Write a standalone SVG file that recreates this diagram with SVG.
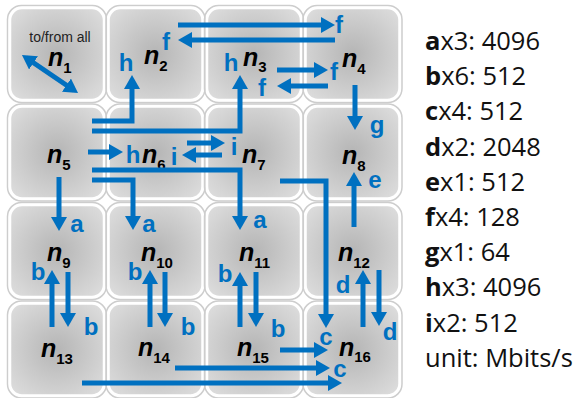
<svg xmlns="http://www.w3.org/2000/svg" width="584" height="398" viewBox="0 0 584 398">
  <style>
    .tile { fill: url(#tileFill); stroke: #ffffff; stroke-width: 2.5; }
    .rim { fill: none; stroke: #cdcdcd; stroke-width: 1.5; }
    .flow { fill: none; stroke: #0070c0; stroke-width: 5; stroke-linejoin: miter; marker-end: url(#head); }
    .lbl { fill: #0070c0; font-family: "Liberation Sans", Arial, sans-serif; font-weight: bold; font-size: 24px; text-anchor: middle; }
    .nd { fill: #000; font-family: "Liberation Sans", Arial, sans-serif; font-weight: bold; font-style: italic; font-size: 25px; }
    .sub { font-style: normal; font-size: 15px; }
    .note { fill: #222; font-family: "Liberation Sans", Arial, sans-serif; font-size: 14px; text-anchor: middle; }
    .key { fill: #111; font-family: "Open Sans", "Liberation Sans", sans-serif; font-size: 25.5px; }
    .key tspan.b { font-weight: bold; }
  </style>
  <defs>
    <radialGradient id="tileFill" cx="50%" cy="50%" r="65%">
      <stop offset="0" stop-color="#b5b5b5"/>
      <stop offset="1" stop-color="#dcdcdc"/>
    </radialGradient>
    <marker id="head" viewBox="0 0 14 16" refX="9" refY="8" markerWidth="14" markerHeight="16" markerUnits="userSpaceOnUse" orient="auto-start-reverse">
      <path d="M0,0 L14,8 L0,16 z" fill="#0070c0"/>
    </marker>
  </defs>

  <rect width="584" height="398" fill="#ffffff"/>

  <!-- tiles -->
  <g id="n1"><rect class="rim" x="7.5" y="5.5" width="99" height="97" rx="14"/><rect class="tile" x="10" y="8" width="94" height="92" rx="12"/>
    <text class="note" x="60" y="42">to/from all</text>
    <text class="nd" x="48" y="66">n<tspan class="sub" dy="7">1</tspan></text></g>
  <g id="n2"><rect class="rim" x="106" y="5.5" width="99" height="97" rx="14"/><rect class="tile" x="108.5" y="8" width="94" height="92" rx="12"/>
    <text class="nd" x="144" y="64">n<tspan class="sub" dy="7">2</tspan></text></g>
  <g id="n3"><rect class="rim" x="204.5" y="5.5" width="99" height="97" rx="14"/><rect class="tile" x="207" y="8" width="94" height="92" rx="12"/>
    <text class="nd" x="243" y="66">n<tspan class="sub" dy="6">3</tspan></text></g>
  <g id="n4"><rect class="rim" x="303" y="5.5" width="99" height="97" rx="14"/><rect class="tile" x="305.5" y="8" width="94" height="92" rx="12"/>
    <text class="nd" x="342" y="67">n<tspan class="sub" dy="7">4</tspan></text></g>

  <g id="n5"><rect class="rim" x="7.5" y="104" width="99" height="97" rx="14"/><rect class="tile" x="10" y="106.5" width="94" height="92" rx="12"/>
    <text class="nd" x="47" y="163">n<tspan class="sub" dy="7">5</tspan></text></g>
  <g id="n6"><rect class="rim" x="106" y="104" width="99" height="97" rx="14"/><rect class="tile" x="108.5" y="106.5" width="94" height="92" rx="12"/>
    <text class="nd" x="142" y="163">n<tspan class="sub" dy="7">6</tspan></text></g>
  <g id="n7"><rect class="rim" x="204.5" y="104" width="99" height="97" rx="14"/><rect class="tile" x="207" y="106.5" width="94" height="92" rx="12"/>
    <text class="nd" x="242" y="163">n<tspan class="sub" dy="7">7</tspan></text></g>
  <g id="n8"><rect class="rim" x="303" y="104" width="99" height="97" rx="14"/><rect class="tile" x="305.5" y="106.5" width="94" height="92" rx="12"/>
    <text class="nd" x="342" y="164">n<tspan class="sub" dy="7">8</tspan></text></g>

  <g id="n9"><rect class="rim" x="7.5" y="202.5" width="99" height="97" rx="14"/><rect class="tile" x="10" y="205" width="94" height="92" rx="12"/>
    <text class="nd" x="47" y="261">n<tspan class="sub" dy="7">9</tspan></text></g>
  <g id="n10"><rect class="rim" x="106" y="202.5" width="99" height="97" rx="14"/><rect class="tile" x="108.5" y="205" width="94" height="92" rx="12"/>
    <text class="nd" x="141" y="261">n<tspan class="sub" dy="7">10</tspan></text></g>
  <g id="n11"><rect class="rim" x="204.5" y="202.5" width="99" height="97" rx="14"/><rect class="tile" x="207" y="205" width="94" height="92" rx="12"/>
    <text class="nd" x="239" y="261">n<tspan class="sub" dy="7">11</tspan></text></g>
  <g id="n12"><rect class="rim" x="303" y="202.5" width="99" height="97" rx="14"/><rect class="tile" x="305.5" y="205" width="94" height="92" rx="12"/>
    <text class="nd" x="338" y="261">n<tspan class="sub" dy="7">12</tspan></text></g>

  <g id="n13"><rect class="rim" x="7.5" y="301" width="99" height="97" rx="14"/><rect class="tile" x="10" y="303.5" width="94" height="92" rx="12"/>
    <text class="nd" x="41" y="357">n<tspan class="sub" dy="7">13</tspan></text></g>
  <g id="n14"><rect class="rim" x="106" y="301" width="99" height="97" rx="14"/><rect class="tile" x="108.5" y="303.5" width="94" height="92" rx="12"/>
    <text class="nd" x="138" y="356">n<tspan class="sub" dy="7">14</tspan></text></g>
  <g id="n15"><rect class="rim" x="204.5" y="301" width="99" height="97" rx="14"/><rect class="tile" x="207" y="303.5" width="94" height="92" rx="12"/>
    <text class="nd" x="237" y="356">n<tspan class="sub" dy="7">15</tspan></text></g>
  <g id="n16"><rect class="rim" x="303" y="301" width="99" height="97" rx="14"/><rect class="tile" x="305.5" y="303.5" width="94" height="92" rx="12"/>
    <text class="nd" x="339" y="356">n<tspan class="sub" dy="6">16</tspan></text></g>

  <!-- traffic flows -->
  <g id="connectors">
    <path class="flow" d="M26.1,57.8 L73.9,90.2" marker-start="url(#head)"/>
    <path class="flow" d="M178,25 H330"/>
    <path class="flow" d="M335,40 H183"/>
    <path class="flow" d="M92,121 H132 V80"/>
    <path class="flow" d="M92,131 H240 V80"/>
    <path class="flow" d="M277,70 H323"/>
    <path class="flow" d="M328,86 H282"/>
    <path class="flow" d="M355,85 V125"/>
    <path class="flow" d="M88,152 H118"/>
    <path class="flow" d="M187,143 H220"/>
    <path class="flow" d="M222,155 H187"/>
    <path class="flow" d="M92,170 H240 V225"/>
    <path class="flow" d="M92,180 H133 V225"/>
    <path class="flow" d="M59,177 V226"/>
    <path class="flow" d="M280,181 H326 V323"/>
    <path class="flow" d="M354,227 V177"/>
    <path class="flow" d="M52,327 V275"/>
    <path class="flow" d="M68,272 V322"/>
    <path class="flow" d="M150,327 V275"/>
    <path class="flow" d="M165,272 V322"/>
    <path class="flow" d="M240,327 V277"/>
    <path class="flow" d="M256,272 V322"/>
    <path class="flow" d="M363,327 V275"/>
    <path class="flow" d="M379,270 V321"/>
    <path class="flow" d="M280,350 H323"/>
    <path class="flow" d="M175,368 H325"/>
    <path class="flow" d="M82,383 H337"/>
  </g>

  <!-- flow labels -->
  <g id="flow-labels">
    <text class="lbl" x="166" y="50">f</text>
    <text class="lbl" x="339" y="33">f</text>
    <text class="lbl" x="126" y="71">h</text>
    <text class="lbl" x="231" y="71">h</text>
    <text class="lbl" x="334" y="80">f</text>
    <text class="lbl" x="262" y="96">f</text>
    <text class="lbl" x="377" y="133">g</text>
    <text class="lbl" x="133" y="163">h</text>
    <text class="lbl" x="174" y="165">i</text>
    <text class="lbl" x="234" y="155">i</text>
    <text class="lbl" x="77" y="232">a</text>
    <text class="lbl" x="149" y="232">a</text>
    <text class="lbl" x="260" y="228">a</text>
    <text class="lbl" x="375" y="188">e</text>
    <text class="lbl" x="38" y="280">b</text>
    <text class="lbl" x="91" y="335">b</text>
    <text class="lbl" x="135" y="280">b</text>
    <text class="lbl" x="188" y="335">b</text>
    <text class="lbl" x="225" y="282">b</text>
    <text class="lbl" x="278" y="337">b</text>
    <text class="lbl" x="343" y="293">d</text>
    <text class="lbl" x="390" y="340">d</text>
    <text class="lbl" x="326" y="345">c</text>
    <text class="lbl" x="340" y="377">c</text>
  </g>

  <!-- legend -->
  <g id="legend" class="key">
    <text class="key" x="425" y="50"><tspan class="b">a</tspan>x3: 4096</text>
    <text class="key" x="425" y="85.2"><tspan class="b">b</tspan>x6: 512</text>
    <text class="key" x="425" y="120.4"><tspan class="b">c</tspan>x4: 512</text>
    <text class="key" x="425" y="155.6"><tspan class="b">d</tspan>x2: 2048</text>
    <text class="key" x="425" y="190.8"><tspan class="b">e</tspan>x1: 512</text>
    <text class="key" x="425" y="226"><tspan class="b">f</tspan>x4: 128</text>
    <text class="key" x="425" y="261.2"><tspan class="b">g</tspan>x1: 64</text>
    <text class="key" x="425" y="296.4"><tspan class="b">h</tspan>x3: 4096</text>
    <text class="key" x="425" y="331.6"><tspan class="b">i</tspan>x2: 512</text>
    <text class="key" x="425" y="366.8">unit: Mbits/s</text>
  </g>
</svg>
